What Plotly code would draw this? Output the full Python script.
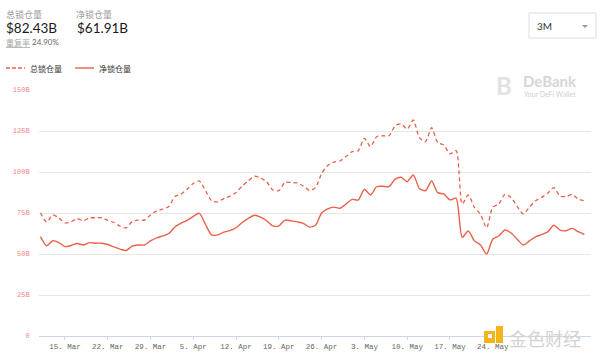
import plotly.graph_objects as go
import pandas as pd

# ---- data ----
start_date = "2021-03-11"
n_days = 90
total_locked = [
    75.2, 69.5, 73.8, 72.0, 69.0, 69.6, 71.5, 70.3, 72.0, 72.1,
    72.1, 70.5, 69.2, 67.0, 66.0, 69.8, 70.7, 70.7, 73.8, 76.3,
    77.3, 79.0, 85.0, 86.5, 89.5, 93.0, 94.5, 88.5, 82.5, 81.8,
    83.8, 85.3, 87.5, 91.5, 94.5, 97.5, 96.3, 94.0, 89.0, 88.6,
    93.7, 93.6, 93.3, 91.5, 88.7, 90.5, 99.0, 104.0, 106.0, 106.7,
    109.5, 112.4, 113.0, 120.5, 115.5, 121.5, 122.1, 122.0, 128.0, 129.3,
    126.2, 131.7, 121.0, 118.5, 127.0, 118.0, 116.5, 111.0, 113.0, 80.5,
    86.0, 78.5, 74.2, 66.0, 78.5, 80.5, 86.4, 84.5, 79.0, 74.4,
    78.5, 82.5, 84.5, 87.0, 90.5, 85.4, 85.0, 86.3, 83.5, 82.43,
]
net_locked = [
    60.6, 55.0, 58.1, 57.0, 54.5, 55.2, 56.4, 55.5, 56.9, 56.6,
    56.6, 55.8, 54.3, 53.0, 52.1, 54.8, 55.5, 55.5, 58.0, 59.8,
    61.0, 62.5, 66.5, 68.8, 70.5, 73.0, 74.8, 68.0, 61.6, 61.7,
    63.3, 64.3, 66.0, 69.2, 71.7, 73.6, 72.5, 70.3, 67.1, 67.1,
    70.7, 70.2, 69.6, 68.7, 66.4, 67.5, 75.0, 77.5, 78.6, 77.9,
    80.5, 83.3, 82.9, 89.5, 86.0, 91.0, 91.3, 91.0, 95.5, 96.8,
    94.1, 98.2, 90.0, 88.6, 94.5, 87.4, 86.6, 83.0, 84.0, 60.2,
    64.0, 58.0, 55.5, 50.0, 59.0, 61.0, 64.6, 62.8, 59.0, 55.5,
    58.0, 60.5, 61.8, 63.5, 67.5, 64.6, 64.2, 65.6, 63.6, 61.91,
]
series_names = ["总锁仓量", "净锁仓量"]
y_ticks = [0, 25, 50, 75, 100, 125, 150]
y_tick_labels = ["0", "25B", "50B", "75B", "100B", "125B", "150B"]
x_tick_dates = ["2021-03-15", "2021-03-22", "2021-03-29", "2021-04-05", "2021-04-12",
                "2021-04-19", "2021-04-26", "2021-05-03", "2021-05-10", "2021-05-17",
                "2021-05-24", "2021-05-31", "2021-06-07"]
# the last two labels are hidden under the watermark in the source image
x_tick_labels = ["15. Mar", "22. Mar", "29. Mar", "5. Apr", "12. Apr", "19. Apr",
                 "26. Apr", "3. May", "10. May", "17. May", "24. May", "", ""]

dates = pd.date_range(start_date, periods=n_days, freq="D")

LINE = "#e9614a"
W, H = 600, 361
L, R, T, B = 39, 9, 90, 25
PW, PH = W - L - R, H - T - B


def px(x):
    return (x - L) / PW


def py(y):
    return (H - B - y) / PH


fig = go.Figure()
fig.add_trace(go.Scatter(x=dates, y=total_locked, mode="lines", name=series_names[0],
                         line=dict(color=LINE, width=1.3, dash="4px,3px", shape="spline", smoothing=0.7),
                         showlegend=False, hoverinfo="skip"))
fig.add_trace(go.Scatter(x=dates, y=net_locked, mode="lines", name=series_names[1],
                         line=dict(color=LINE, width=1.4, shape="spline", smoothing=0.7),
                         showlegend=False, hoverinfo="skip"))

ann = []
shapes = []

LATO = "Lato, 'Noto Sans CJK SC', sans-serif"
CJK = "'Noto Sans CJK SC', sans-serif"


def text(x, y, s, size, color, family=LATO, width=None, align="left"):
    d = dict(x=px(x), y=py(y), xref="paper", yref="paper", text=s, showarrow=False,
             xanchor="left" if align == "left" else "center", yanchor="middle",
             align=align, borderpad=0,
             font=dict(size=size, color=color, family=family))
    if width:
        d["width"] = width
    ann.append(d)


# header
text(5, 15, series_names[0], 9, "#9a9a9a", family=CJK, width=60)
text(5, 28, "$82.43B", 13.5, "#1a1a1a", width=70)
text(5, 42, "<span style='text-decoration:underline'>重复率</span>", 8, "#a8a8a8", family=CJK, width=30)
text(31, 42, "24.90%", 8, "#666666", width=40)
text(75, 15, series_names[1], 9, "#9a9a9a", family=CJK, width=60)
text(76, 28, "$61.91B", 13.5, "#1a1a1a", width=70)

# dropdown
shapes.append(dict(type="rect", xref="paper", yref="paper", x0=px(529), x1=px(596), y0=py(13), y1=py(38),
                   line=dict(color="#dddddd", width=1), fillcolor="white"))
text(536, 26, "3M", 10, "#333333", width=30)
shapes.append(dict(type="path", xref="paper", yref="paper",
                   path=f"M {px(582)} {py(25)} L {px(588)} {py(25)} L {px(585)} {py(28)} Z",
                   line=dict(width=0), fillcolor="#999999"))

# legend
shapes.append(dict(type="line", xref="paper", yref="paper", x0=px(6), x1=px(25), y0=py(68), y1=py(68),
                   line=dict(color=LINE, width=1.4, dash="4px,2px")))
text(29, 68, series_names[0], 8, "#333333", family=CJK, width=50)
shapes.append(dict(type="line", xref="paper", yref="paper", x0=px(75), x1=px(94), y0=py(68), y1=py(68),
                   line=dict(color=LINE, width=1.4)))
text(98, 68, series_names[1], 8, "#333333", family=CJK, width=50)

# DeBank watermark
text(495, 85, "<b>B</b>", 24, "#e2e2e2", width=30)
text(522, 81, "<b>DeBank</b>", 15, "#d6d6d6", width=80)
text(523, 94, "Your DeFi Wallet", 7, "#cfcfcf", width=80)

# 金色财经 watermark
shapes.append(dict(type="rect", xref="paper", yref="paper", x0=px(484), x1=px(495), y0=py(331), y1=py(343),
                   line=dict(width=0), fillcolor="#f5b41a", layer="above"))
shapes.append(dict(type="rect", xref="paper", yref="paper", x0=px(496), x1=px(503), y0=py(326), y1=py(343),
                   line=dict(width=0), fillcolor="#f5b41a", layer="above"))
shapes.append(dict(type="rect", xref="paper", yref="paper", x0=px(488), x1=px(492), y0=py(334), y1=py(338),
                   line=dict(width=0), fillcolor="white", layer="above"))
text(508, 338, "金色财经", 18, "#d2d2d2", family=CJK, width=85)

fig.update_layout(
    width=W, height=H,
    margin=dict(l=L, r=R, t=T, b=B),
    paper_bgcolor="white", plot_bgcolor="white",
    annotations=ann, shapes=shapes,
    xaxis=dict(
        type="date",
        range=["2021-03-10 18:00", "2021-06-09 02:00"],
        tickvals=x_tick_dates, ticktext=x_tick_labels,
        showgrid=False, showline=True, linecolor="#ccd6eb", linewidth=1,
        ticks="outside", ticklen=3, tickcolor="#ccd6eb",
        tickfont=dict(family="Liberation Mono, monospace", size=7.5, color="#666666"),
        zeroline=False,
    ),
    yaxis=dict(
        range=[0, 150],
        tickvals=y_ticks, ticktext=y_tick_labels,
        showgrid=True, gridcolor="#e6e6e6", gridwidth=1,
        zeroline=False, showline=False,
        ticks="outside", ticklen=7, tickcolor="rgba(0,0,0,0)",
        tickfont=dict(family="Liberation Mono, monospace", size=7, color="#f08585"),
    ),
)

fig.write_html("out.html", post_script="document.body.style.margin='0';",
               config={"displayModeBar": False})
